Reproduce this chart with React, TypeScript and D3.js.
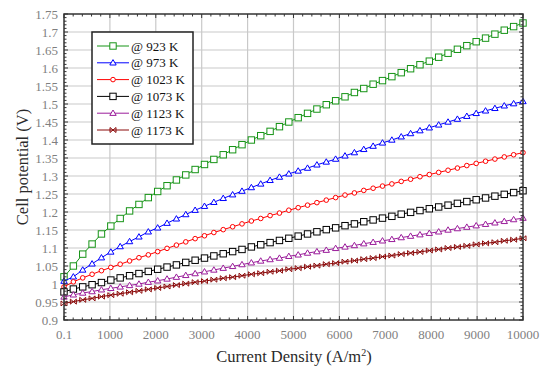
import React from 'react';
import * as d3 from 'd3';

// current density (A/m^2), 50 sample points
const currentDensity = [
  0.1, 204, 408, 612, 816, 1020, 1224, 1429, 1633, 1837,
  2041, 2245, 2449, 2653, 2857, 3061, 3265, 3469, 3674, 3878,
  4082, 4286, 4490, 4694, 4898, 5102, 5306, 5510, 5714, 5918,
  6122, 6327, 6531, 6735, 6939, 7143, 7347, 7551, 7755, 7959,
  8163, 8367, 8571, 8776, 8980, 9184, 9388, 9592, 9796, 10000,
];

const v923 = [
  1.020, 1.050, 1.083, 1.111, 1.139, 1.161, 1.182, 1.203, 1.221, 1.240,
  1.257, 1.273, 1.289, 1.303, 1.318, 1.332, 1.346, 1.359, 1.373, 1.387,
  1.400, 1.412, 1.424, 1.437, 1.450, 1.462, 1.474, 1.486, 1.498, 1.509,
  1.520, 1.532, 1.543, 1.555, 1.565, 1.576, 1.587, 1.598, 1.609, 1.619,
  1.630, 1.641, 1.652, 1.662, 1.673, 1.683, 1.694, 1.705, 1.715, 1.725,
];
const v973 = [
  1.008, 1.020, 1.039, 1.056, 1.073, 1.089, 1.104, 1.118, 1.131, 1.145,
  1.156, 1.169, 1.181, 1.193, 1.205, 1.216, 1.227, 1.238, 1.248, 1.258,
  1.268, 1.278, 1.288, 1.297, 1.306, 1.314, 1.322, 1.331, 1.339, 1.347,
  1.356, 1.365, 1.374, 1.383, 1.392, 1.400, 1.409, 1.418, 1.426, 1.434,
  1.442, 1.450, 1.458, 1.466, 1.474, 1.481, 1.488, 1.495, 1.501, 1.507,
];
const v1023 = [
  0.992, 1.006, 1.017, 1.027, 1.037, 1.046, 1.055, 1.064, 1.073, 1.081,
  1.090, 1.099, 1.108, 1.117, 1.126, 1.134, 1.143, 1.151, 1.159, 1.167,
  1.175, 1.182, 1.190, 1.197, 1.205, 1.212, 1.219, 1.226, 1.233, 1.240,
  1.247, 1.253, 1.260, 1.266, 1.272, 1.278, 1.285, 1.291, 1.298, 1.304,
  1.310, 1.316, 1.322, 1.329, 1.335, 1.341, 1.347, 1.353, 1.359, 1.365,
];
const v1073 = [
  0.978, 0.986, 0.992, 0.998, 1.004, 1.011, 1.017, 1.023, 1.029, 1.035,
  1.041, 1.047, 1.053, 1.060, 1.066, 1.072, 1.078, 1.084, 1.090, 1.096,
  1.103, 1.109, 1.115, 1.121, 1.127, 1.133, 1.139, 1.145, 1.151, 1.156,
  1.162, 1.167, 1.173, 1.178, 1.183, 1.188, 1.194, 1.199, 1.204, 1.209,
  1.214, 1.219, 1.224, 1.229, 1.234, 1.239, 1.244, 1.249, 1.254, 1.259,
];
const v1123 = [
  0.964, 0.970, 0.975, 0.979, 0.984, 0.988, 0.992, 0.996, 1.000, 1.005,
  1.009, 1.014, 1.019, 1.024, 1.029, 1.034, 1.039, 1.044, 1.049, 1.054,
  1.059, 1.064, 1.068, 1.072, 1.077, 1.081, 1.086, 1.090, 1.094, 1.099,
  1.103, 1.107, 1.112, 1.116, 1.120, 1.124, 1.129, 1.133, 1.137, 1.141,
  1.145, 1.150, 1.154, 1.158, 1.162, 1.166, 1.170, 1.174, 1.179, 1.183,
];
const v1173 = [
  0.946, 0.951, 0.956, 0.960, 0.965, 0.969, 0.973, 0.977, 0.981, 0.985,
  0.989, 0.993, 0.997, 1.001, 1.005, 1.008, 1.012, 1.016, 1.019, 1.023,
  1.027, 1.030, 1.034, 1.037, 1.041, 1.044, 1.048, 1.051, 1.055, 1.058,
  1.062, 1.065, 1.069, 1.072, 1.076, 1.079, 1.083, 1.086, 1.089, 1.093,
  1.096, 1.100, 1.103, 1.106, 1.110, 1.113, 1.116, 1.120, 1.123, 1.127,
];

const seriesLabels = ['@ 923 K', '@ 973 K', '@ 1023 K', '@ 1073 K', '@ 1123 K', '@ 1173 K'];
const seriesValues = [v923, v973, v1023, v1073, v1123, v1173];
const seriesColors = ['#169416', '#0000ff', '#ff0000', '#000000', '#9b1d9b', '#8b0a0a'];
const seriesMarkers = ['square', 'triangle', 'circle', 'square', 'triangle', 'bowtie'];

const xTicks = [0.1, 1000, 2000, 3000, 4000, 5000, 6000, 7000, 8000, 9000, 10000];
const yTicks = [0.9, 0.95, 1, 1.05, 1.1, 1.15, 1.2, 1.25, 1.3, 1.35, 1.4, 1.45, 1.5, 1.55, 1.6, 1.65, 1.7, 1.75];

const W = 546;
const H = 368;
const plot = { left: 64, right: 523, top: 14, bottom: 320 };
const serif = "'Liberation Serif', 'Times New Roman', serif";

const Marker: React.FC<{ kind: string; x: number; y: number; color: string }> = ({ kind, x, y, color }) => {
  const common = { fill: '#fff', stroke: color, strokeWidth: 1 };
  if (kind === 'square') return <rect x={x - 3.2} y={y - 3.2} width={6.4} height={6.4} {...common} />;
  if (kind === 'circle') return <circle cx={x} cy={y} r={2.3} {...common} />;
  if (kind === 'triangle')
    return <path d={`M${x},${y - 3.2} L${x + 3.2},${y + 2.2} L${x - 3.2},${y + 2.2} Z`} {...common} />;
  return (
    <path
      d={`M${x - 3},${y - 2.5} L${x},${y} L${x - 3},${y + 2.5} Z M${x + 3},${y - 2.5} L${x},${y} L${x + 3},${y + 2.5} Z`}
      {...common}
      fill="none"
    />
  );
};

export default function App() {
  const x = d3.scaleLinear().domain([0.1, 10000]).range([plot.left, plot.right]);
  const y = d3.scaleLinear().domain([0.9, 1.75]).range([plot.bottom, plot.top]);

  const line = d3
    .line<number>()
    .x((_, i) => x(currentDensity[i]))
    .y(d => y(d));

  const xMinor = d3.range(0, 10001, 200).map(v => Math.max(v, 0.1));
  const yMinor = d3.range(90, 176, 1).map(v => v / 100);

  const legendX = 92;
  const legendY = 32;
  const rowY = (i: number) => legendY + 14 + i * 16.8;

  const textStyle = { fontFamily: serif };

  return (
    <svg width={W} height={H} style={{ position: 'absolute', left: 0, top: 0, background: '#fff' }}>
      <rect width={W} height={H} fill="#fff" />

      {/* grid */}
      <g stroke="#c9c9c9" strokeWidth={1.2}>
        {xTicks.slice(1, -1).map(t => (
          <line key={'gx' + t} x1={x(t)} x2={x(t)} y1={plot.top} y2={plot.bottom} />
        ))}
        {yTicks.slice(1, -1).map(t => (
          <line key={'gy' + t} x1={plot.left} x2={plot.right} y1={y(t)} y2={y(t)} />
        ))}
      </g>

      {/* series */}
      {seriesValues.map((vals, s) => (
        <g key={seriesLabels[s]}>
          <path d={line(vals) || ''} fill="none" stroke={seriesColors[s]} strokeWidth={1} />
          {vals.map((v, i) => (
            <Marker key={i} kind={seriesMarkers[s]} x={x(currentDensity[i])} y={y(v)} color={seriesColors[s]} />
          ))}
        </g>
      ))}

      {/* ticks, inward on all four sides */}
      <g stroke="#333" strokeWidth={1}>
        {xMinor.map((t, i) => {
          const len = i % 5 === 0 ? 4 : 2.5;
          return (
            <g key={'tx' + i}>
              <line x1={x(t)} x2={x(t)} y1={plot.bottom} y2={plot.bottom - len} />
              <line x1={x(t)} x2={x(t)} y1={plot.top} y2={plot.top + len} />
            </g>
          );
        })}
        {yMinor.map((t, i) => {
          const len = i % 5 === 0 ? 4 : 2.5;
          return (
            <g key={'ty' + i}>
              <line x1={plot.left} x2={plot.left + len} y1={y(t)} y2={y(t)} />
              <line x1={plot.right} x2={plot.right - len} y1={y(t)} y2={y(t)} />
            </g>
          );
        })}
      </g>

      {/* frame */}
      <rect
        x={plot.left}
        y={plot.top}
        width={plot.right - plot.left}
        height={plot.bottom - plot.top}
        fill="none"
        stroke="#333"
        strokeWidth={1.5}
      />

      {/* tick labels */}
      <g fontSize={13} fill="#7f7f7f">
        {xTicks.map(t => (
          <text key={'lx' + t} x={x(t)} y={plot.bottom + 19} textAnchor="middle" style={textStyle}>
            {t}
          </text>
        ))}
        {yTicks.map(t => (
          <text key={'ly' + t} x={plot.left - 6} y={y(t) + 4.5} textAnchor="end" style={textStyle}>
            {t}
          </text>
        ))}
      </g>

      {/* axis titles */}
      <text x={294} y={362} textAnchor="middle" style={textStyle} fontSize={16.5} fill="#2a2a2a">
        Current Density (A/m<tspan dy={-6} fontSize={10}>2</tspan>
        <tspan dy={6}>)</tspan>
      </text>
      <text
        transform={`translate(28,${(plot.top + plot.bottom) / 2}) rotate(-90)`}
        textAnchor="middle"
        style={textStyle}
        fontSize={16.5}
        fill="#2a2a2a"
      >
        Cell potential (V)
      </text>

      {/* legend */}
      <rect x={legendX} y={legendY} width={101} height={112} fill="#fff" stroke="#222" strokeWidth={1.5} />
      {seriesLabels.map((label, i) => (
        <g key={'lg' + label}>
          <line x1={legendX + 5} x2={legendX + 37} y1={rowY(i)} y2={rowY(i)} stroke={seriesColors[i]} strokeWidth={1} />
          <Marker kind={seriesMarkers[i]} x={legendX + 21} y={rowY(i)} color={seriesColors[i]} />
          <text x={legendX + 39} y={rowY(i) + 4.5} style={textStyle} fontSize={13} fill="#111">
            {label}
          </text>
        </g>
      ))}
    </svg>
  );
}
